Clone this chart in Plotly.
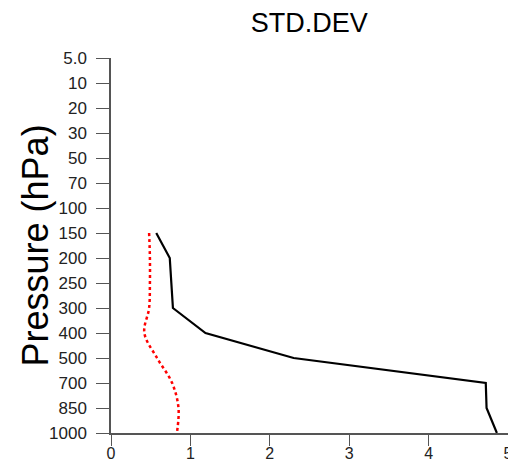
import plotly.graph_objects as go

levels = ["5.0", "10", "20", "30", "50", "70", "100", "150", "200", "250",
          "300", "400", "500", "700", "850", "1000"]
line_levels = ["150", "200", "250", "300", "400", "500", "700", "850", "1000"]
black_vals = [0.57, 0.74, 0.76, 0.78, 1.19, 2.30, 4.72, 4.73, 4.86]
red_vals = [0.48, 0.49, 0.49, 0.48, 0.42, 0.58, 0.77, 0.85, 0.83]
x_ticks = [0, 1, 2, 3, 4, 5]

FONT = "Liberation Sans, Arial, Helvetica, sans-serif"

fig = go.Figure()
fig.add_trace(go.Scatter(x=red_vals, y=line_levels, mode="lines",
                         line=dict(color="red", width=2.5, dash="dot", shape="spline"),
                         showlegend=False))
fig.add_trace(go.Scatter(x=black_vals, y=line_levels, mode="lines",
                         line=dict(color="black", width=2.2),
                         showlegend=False))

fig.update_layout(
    width=508, height=464,
    margin=dict(l=111, r=0, t=58, b=31),
    paper_bgcolor="white", plot_bgcolor="white",
    font=dict(family=FONT, color="#222"),
    showlegend=False,
    title=dict(text="STD.DEV", x=0.609, xanchor="center", y=0.952, yanchor="middle",
               font=dict(size=27, color="black", family=FONT)),
    xaxis=dict(range=[0, 5], tickvals=x_ticks, ticktext=[str(v) for v in x_ticks],
               showgrid=False, zeroline=False, showline=True, linecolor="#555", linewidth=1.5,
               ticks="outside", ticklen=5, tickwidth=1.2, tickcolor="#555",
               minor=dict(tickvals=x_ticks, ticks="outside", ticklen=11, tickwidth=1.2,
                          tickcolor="#555", showgrid=False),
               ticklabeloverflow="allow", automargin=False, ticklabelstandoff=0,
               tickfont=dict(size=16, color="#222")),
    yaxis=dict(type="category", categoryorder="array", categoryarray=levels,
               range=[15, 0], showgrid=False, zeroline=False, showline=True,
               linecolor="#555", linewidth=1.5, automargin=False,
               ticks="outside", ticklen=13, tickwidth=1.2, tickcolor="#555",
               tickfont=dict(size=17, color="#222"), ticklabelstandoff=6),
    annotations=[dict(text="Pressure (hPa)", xref="paper", yref="paper",
                      x=-0.189, y=0.5, xanchor="center", yanchor="middle",
                      textangle=-90, showarrow=False,
                      font=dict(size=36, color="black", family=FONT))],
)

fig.write_html("out.html")
